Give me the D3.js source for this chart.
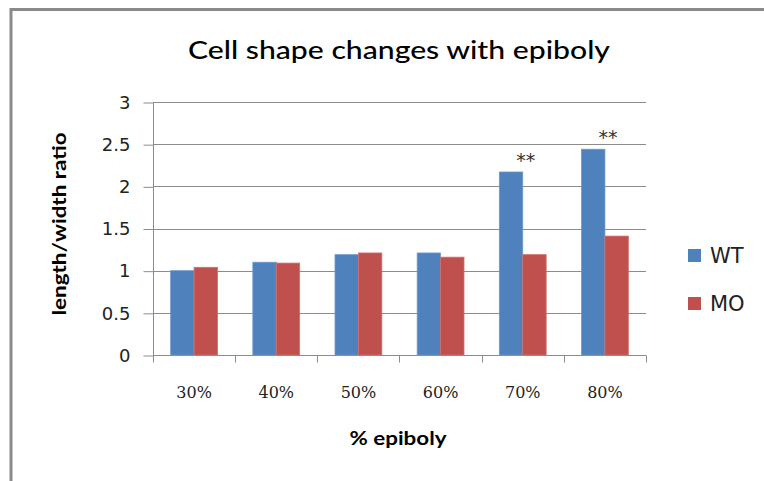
<!DOCTYPE html>
<html>
<head>
<meta charset="utf-8">
<script src="https://cdn.jsdelivr.net/npm/d3@7"></script>
<style>
body { margin: 0; background: #fff; }
</style>
</head>
<body>
<div id="chart"></div>
<script>
var categories = ["30%", "40%", "50%", "60%", "70%", "80%"];
var wtValues = [1.00, 1.10, 1.19, 1.21, 2.17, 2.44];
var moValues = [1.04, 1.09, 1.21, 1.16, 1.19, 1.41];
var seriesNames = ["WT", "MO"];
var seriesColors = ["#4f81bd", "#c0504d"];
var yTicks = [0, 0.5, 1, 1.5, 2, 2.5, 3];
var significance = ["", "", "", "", "**", "**"];

var svg = d3.select("#chart").append("svg")
    .attr("width", 764)
    .attr("height", 481);

// chart frame
svg.append("rect")
    .attr("x", 11).attr("y", 9.5)
    .attr("width", 800).attr("height", 520)
    .attr("fill", "none")
    .attr("stroke", "#8a8a8a")
    .attr("stroke-width", 3);

var plotLeft = 153, plotRight = 646, plotTop = 102, plotBottom = 355;

var x0 = d3.scaleBand().domain(categories).range([plotLeft, plotRight])
    .paddingInner(0.43).paddingOuter(0.215);
var x1 = d3.scaleBand().domain(seriesNames).range([0, x0.bandwidth()]);
var y = d3.scaleLinear().domain([0, 3]).range([plotBottom, plotTop]);

// gridlines
svg.append("g").selectAll("line").data(yTicks.slice(1)).enter()
    .append("line")
    .attr("x1", plotLeft).attr("x2", plotRight)
    .attr("y1", function (d) { return Math.round(y(d)) + 0.5; })
    .attr("y2", function (d) { return Math.round(y(d)) + 0.5; })
    .attr("stroke", "#8c8c8c")
    .attr("stroke-width", 1);

// y axis
var yAxis = d3.axisLeft(y).tickValues(yTicks).tickSize(10).tickPadding(13)
    .tickFormat(function (d) { return d; });
svg.append("g").attr("id", "yAxis")
    .attr("transform", "translate(" + (plotLeft + 0.5) + ",0.5)")
    .call(yAxis);
svg.select("#yAxis .domain").remove();
svg.selectAll("#yAxis line").attr("stroke", "#8c8c8c");
svg.selectAll("#yAxis text")
    .style("font-family", "'DejaVu Sans', sans-serif")
    .style("font-size", "18px")
    .attr("fill", "#222");
svg.append("line")
    .attr("x1", plotLeft + 0.5).attr("x2", plotLeft + 0.5)
    .attr("y1", plotTop).attr("y2", plotBottom + 0.5)
    .attr("stroke", "#8c8c8c");

// x axis with ticks at category boundaries
var xAxisG = svg.append("g").attr("id", "xAxis")
    .attr("transform", "translate(0," + (plotBottom + 0.5) + ")");
xAxisG.append("line")
    .attr("x1", plotLeft).attr("x2", plotRight)
    .attr("stroke", "#8c8c8c");
var bounds = categories.map(function (c) { return x0(c) - x0.step() * x0.paddingInner() / 2; });
bounds.push(plotRight);
xAxisG.selectAll("line.tick").data(bounds).enter()
    .append("line").attr("class", "tick")
    .attr("x1", function (d) { return Math.round(d) + 0.5; })
    .attr("x2", function (d) { return Math.round(d) + 0.5; })
    .attr("y1", 0).attr("y2", 7)
    .attr("stroke", "#8c8c8c");
xAxisG.selectAll("text").data(categories).enter()
    .append("text")
    .attr("x", function (d) { return x0(d) + x0.bandwidth() / 2; })
    .attr("y", 37)
    .attr("dy", "0.35em")
    .attr("text-anchor", "middle")
    .style("font-family", "'DejaVu Serif', serif")
    .style("font-size", "16px")
    .attr("fill", "#222")
    .text(function (d) { return d; });

// bars
var seriesData = [wtValues, moValues];
seriesData.forEach(function (vals, si) {
    svg.append("g").selectAll("rect").data(vals).enter()
        .append("rect")
        .attr("x", function (d, i) { return x0(categories[i]) + x1(seriesNames[si]); })
        .attr("y", function (d) { return y(d); })
        .attr("width", x1.bandwidth())
        .attr("height", function (d) { return y(0) - y(d); })
        .attr("fill", seriesColors[si])
        .attr("stroke", si === 0 ? "#6f98cc" : "#d06f6c")
        .attr("stroke-width", 0.8);
});

// significance stars
svg.append("g").selectAll("text").data(significance).enter()
    .append("text")
    .attr("x", function (d, i) { return x0(categories[i]) + x0.bandwidth() / 2 + 3; })
    .attr("y", function (d, i) { return y(wtValues[i]) - 5; })
    .attr("text-anchor", "middle")
    .style("font-family", "'DejaVu Sans', sans-serif")
    .style("font-size", "19px")
    .attr("fill", "#333")
    .text(function (d) { return d; });

// title
svg.append("text")
    .attr("x", 399).attr("y", 59)
    .attr("text-anchor", "middle")
    .attr("textLength", 422)
    .attr("lengthAdjust", "spacingAndGlyphs")
    .style("font-family", "Lato, sans-serif")
    .style("font-size", "25px")
    .style("font-weight", "500")
    .attr("fill", "#000")
    .text("Cell shape changes with epiboly");

// axis titles
svg.append("text")
    .attr("transform", "translate(66,224) rotate(-90)")
    .attr("text-anchor", "middle")
    .attr("textLength", 183)
    .attr("lengthAdjust", "spacingAndGlyphs")
    .style("font-family", "Lato, sans-serif")
    .style("font-size", "18px")
    .style("font-weight", "bold")
    .attr("fill", "#000")
    .text("length/width ratio");

svg.append("text")
    .attr("x", 398).attr("y", 445)
    .attr("text-anchor", "middle")
    .attr("textLength", 97)
    .attr("lengthAdjust", "spacingAndGlyphs")
    .style("font-family", "Lato, sans-serif")
    .style("font-size", "18px")
    .style("font-weight", "bold")
    .attr("fill", "#000")
    .text("% epiboly");

// legend
var legend = svg.append("g").selectAll("g").data(seriesNames).enter()
    .append("g")
    .attr("transform", function (d, i) { return "translate(688," + (249 + i * 48) + ")"; });
legend.append("rect")
    .attr("width", 13).attr("height", 13)
    .attr("fill", function (d, i) { return seriesColors[i]; });
legend.append("text")
    .attr("x", 22).attr("y", 7)
    .attr("dy", "0.35em")
    .style("font-family", "'DejaVu Sans', sans-serif")
    .style("font-size", "21px")
    .attr("fill", "#222")
    .text(function (d) { return d; });
</script>
</body>
</html>
